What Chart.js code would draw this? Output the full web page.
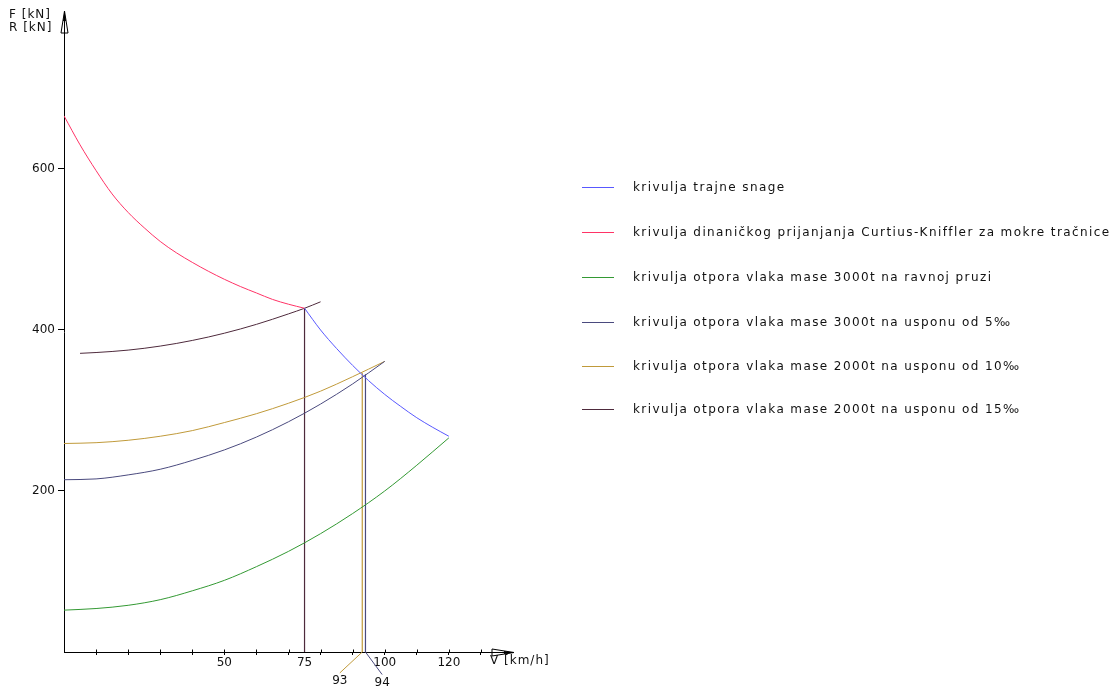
<!DOCTYPE html>
<html lang="hr">
<head>
<meta charset="UTF-8">
<title>Vučna karakteristika</title>
<script src="https://cdn.jsdelivr.net/npm/chart.js@4"></script>
<style>
    body { margin: 0; background: #fff; }
    #wrap { position: relative; width: 1117px; height: 686px; }
    #legend { position: absolute; left: 0; top: 0; }
    .row { position: absolute; left: 582px; height: 14px; }
    .row .ln { position: absolute; left: 0; top: 7px; width: 32px; height: 0; border-top: 1px solid; }
    .row .tx { position: absolute; left: 51px; top: 0; white-space: nowrap;
        font: 12px "DejaVu Sans", sans-serif; letter-spacing: 1.4px; color: #111; line-height: 14px; }
</style>
</head>
<body>
<div id="wrap">
    <canvas id="chart" width="1117" height="686"></canvas>
    <div id="legend"></div>
</div>

<script>
    // legend / series
    var seriesNames = [
        'krivulja trajne snage',
        'krivulja dinaničkog prijanjanja Curtius-Kniffler za mokre tračnice',
        'krivulja otpora vlaka mase 3000t na ravnoj pruzi',
        'krivulja otpora vlaka mase 3000t na usponu od 5‰',
        'krivulja otpora vlaka mase 2000t na usponu od 10‰',
        'krivulja otpora vlaka mase 2000t na usponu od 15‰'
    ];
    var seriesColors = ['#5858ff', '#ff3366', '#339933', '#4a4a7e', '#c09a3a', '#4e2a3c'];

    // V [km/h] and F,R [kN]
    var vPower = [75, 80, 85, 90, 95, 100, 105, 110, 115, 120];
    var fPower = [427, 400, 377, 356, 337, 320, 305, 291, 279, 268];

    var vAdh = [0, 5, 10, 15, 20, 25, 30, 35, 40, 45, 50, 55, 60, 65, 70, 75];
    var fAdh = [666, 630, 598, 569, 546, 527, 510, 496, 484, 473, 463, 454, 446, 438, 432, 427];

    var vFlat = [0, 10, 20, 30, 40, 50, 60, 70, 80, 90, 100, 110, 120];
    var rFlat = [52, 54, 58, 65, 76, 89, 106, 125, 147, 172, 200, 232, 266];

    var vGrade = [0, 10, 20, 30, 40, 50, 60, 70, 80, 90, 100];
    var r5 = [214, 215, 220, 227, 238, 251, 267, 286, 308, 333, 361];
    var r10 = [259, 260, 263, 268, 275, 285, 296, 309, 324, 342, 361];

    var v15 = [5, 10, 20, 30, 40, 50, 60, 70, 75, 80];
    var r15 = [371, 372, 375, 380, 387, 396, 407, 420, 427, 435];

    // operating points (drop lines) and their labels
    var dropV = [75, 93, 94];
    var dropF = [427, 347, 345];
    var dropColor = [5, 4, 3];
    var markV = [93, 94];
    var markEndV = [86, 99.2];
    var markEndF = [-26, -28];
    var markColor = [4, 3];

    var xTicks = [10, 20, 30, 40, 50, 60, 70, 75, 80, 90, 100, 110, 120, 130];
    var xLabels = [50, 75, 100, 120];
    var yTicks = [200, 400, 600];

    function pts(xs, ys) {
        return xs.map(function (x, i) { return { x: x, y: ys[i] }; });
    }

    var curves = [pts(vPower, fPower), pts(vAdh, fAdh), pts(vFlat, rFlat), pts(vGrade, r5), pts(vGrade, r10), pts(v15, r15)];
    var datasets = curves.map(function (d, i) {
        return {
            label: seriesNames[i], data: d, borderColor: seriesColors[i], borderWidth: 1,
            pointRadius: 0, fill: false, cubicInterpolationMode: 'monotone'
        };
    });
    dropV.forEach(function (v, i) {
        datasets.push({ data: [{ x: v, y: 0 }, { x: v, y: dropF[i] }], borderColor: seriesColors[dropColor[i]],
            borderWidth: 1.2, pointRadius: 0, clip: false });
    });
    markV.forEach(function (v, i) {
        datasets.push({ data: [{ x: v, y: 0 }, { x: markEndV[i], y: markEndF[i] }], borderColor: seriesColors[markColor[i]],
            borderWidth: 1, pointRadius: 0, clip: false });
    });

    var FONT = '"DejaVu Sans", sans-serif';

    var extras = {
        id: 'extras',
        afterDraw: function (chart) {
            var c = chart.ctx, xs = chart.scales.x, ys = chart.scales.y;
            var a = chart.chartArea;
            c.save();
            c.strokeStyle = '#000';
            c.lineWidth = 1;
            // y arrow
            var x0 = Math.round(a.left) + 0.5;
            c.beginPath();
            c.moveTo(x0, a.top - 1);
            c.lineTo(x0 - 3.5, a.top + 21);
            c.lineTo(x0 + 3.5, a.top + 21);
            c.closePath();
            c.stroke();
            c.fillStyle = '#000';
            c.beginPath();
            c.moveTo(x0, a.top - 1);
            c.lineTo(x0 - 1.5, a.top + 9);
            c.lineTo(x0 + 1.5, a.top + 9);
            c.closePath();
            c.fill();
            // x arrow
            var y0 = Math.round(a.bottom) + 0.5;
            c.beginPath();
            c.moveTo(a.right + 1, y0);
            c.lineTo(a.right - 21, y0 - 3.5);
            c.lineTo(a.right - 21, y0 + 3.5);
            c.closePath();
            c.stroke();
            c.beginPath();
            c.moveTo(a.right + 1, y0);
            c.lineTo(a.right - 9, y0 - 1.5);
            c.lineTo(a.right - 9, y0 + 1.5);
            c.closePath();
            c.fill();
            // small crossing part of x ticks
            xTicks.forEach(function (v) {
                if (v === 75) return;
                var px = Math.round(xs.getPixelForValue(v)) + 0.5;
                c.beginPath();
                c.moveTo(px, y0 - 3);
                c.lineTo(px, y0);
                c.stroke();
            });

            c.fillStyle = '#111';
            c.font = '12px ' + FONT;
            c.letterSpacing = '1px';
            c.textBaseline = 'middle';
            c.textAlign = 'left';
            c.fillText('F [kN]', 9, 15);
            c.fillText('R [kN]', 9, 28);
            c.fillText('V [km/h]', a.right - 23, a.bottom + 9);
            c.letterSpacing = '0px';
            c.textAlign = 'center';
            markV.forEach(function (v, i) {
                c.fillText(String(v), xs.getPixelForValue(markEndV[i]), ys.getPixelForValue(markEndF[i]) + 8);
            });
            c.restore();
        }
    };

    new Chart(document.getElementById('chart'), {
        type: 'line',
        data: { datasets: datasets },
        options: {
            responsive: false,
            animation: false,
            devicePixelRatio: 1,
            layout: { padding: { left: 0, right: 604, top: 12, bottom: 0 } },
            plugins: { legend: { display: false }, tooltip: { enabled: false } },
            scales: {
                x: {
                    type: 'linear', min: 0, max: 140,
                    afterFit: function (s) { s.height = 34; },
                    afterBuildTicks: function (s) { s.ticks = xTicks.map(function (v) { return { value: v }; }); },
                    border: { display: true, color: '#000', width: 1 },
                    grid: {
                        drawOnChartArea: false, tickLength: 3,
                        color: function (ctx) { return ctx.tick && ctx.tick.value === 75 ? 'rgba(0,0,0,0)' : '#000'; }
                    },
                    ticks: {
                        autoSkip: false, maxRotation: 0, padding: 1, color: '#111',
                        font: { family: FONT, size: 12 },
                        callback: function (v) { return xLabels.indexOf(v) >= 0 ? String(v) : ''; }
                    }
                },
                y: {
                    type: 'linear', min: 0, max: 795,
                    afterFit: function (s) { s.width = 64; },
                    afterBuildTicks: function (s) { s.ticks = yTicks.map(function (v) { return { value: v }; }); },
                    border: { display: true, color: '#000', width: 1 },
                    grid: { drawOnChartArea: false, tickLength: 6, color: '#000' },
                    ticks: { padding: 3, color: '#111', font: { family: FONT, size: 12 } }
                }
            }
        },
        plugins: [extras]
    });

    // legend
    var legend = document.getElementById('legend');
    var rowY = [180, 225, 270, 315, 359, 402];
    seriesNames.forEach(function (name, i) {
        var row = document.createElement('div');
        row.className = 'row';
        row.style.top = rowY[i] + 'px';
        row.innerHTML = '<div class="ln" style="border-color:' + seriesColors[i] + '"></div><div class="tx"></div>';
        row.querySelector('.tx').textContent = name;
        legend.appendChild(row);
    });
</script>
</body>
</html>
